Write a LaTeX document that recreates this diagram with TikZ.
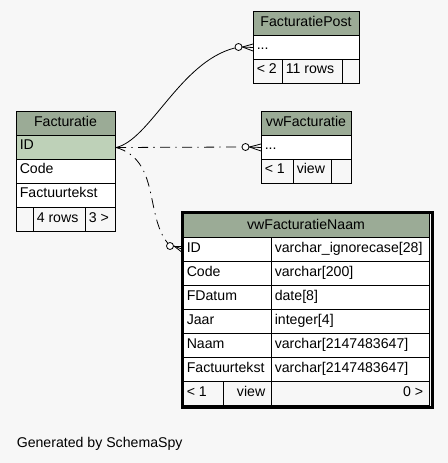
\documentclass[tikz,border=0pt]{standalone}
\usepackage{fontspec}
\setmainfont{Liberation Sans}

\definecolor{SpyHead}{HTML}{9BAB96}
\definecolor{SpyKey}{HTML}{BED1B8}
\definecolor{SpyBack}{HTML}{F7F7F7}
\newcommand{\px}{0.75pt}

\tikzset{
	cell/.style={draw, line width=0.75pt, inner sep=0pt, anchor=north west, fill=white},
	txt/.style={inner sep=0pt, anchor=base west, font=\fontsize{10.6}{12}\selectfont},
	odot/.style={circle, draw, fill=white, line width=0.6pt, minimum size=7*\px, inner sep=0pt},
	link/.style={line width=0.6pt},
	relDash/.style={line width=0.6pt, dash pattern=on 7.5pt off 4pt on 1pt off 4pt}
}

% one table cell: name, x, y, width, fill, text
\newcommand{\spycell}[6]{%
	\node[cell, fill=#5, minimum width=#4*\px, minimum height=24*\px] (#1) at ({#2},{#3}) {};
	\node[txt] (#1-t) at ({#2+3.5},{#3+15}) {#6};}
% same, text set to the right
\newcommand{\spycellR}[6]{%
	\node[cell, fill=#5, minimum width=#4*\px, minimum height=24*\px] (#1) at ({#2},{#3}) {};
	\node[txt, anchor=base east] (#1-t) at ({#2+#4-5.5},{#3+15}) {#6};}
% table header: name, x, y, width, text
\newcommand{\spyhead}[5]{%
	\node[cell, fill=SpyHead, minimum width=#4*\px, minimum height=24*\px] (#1) at ({#2},{#3}) {};
	\node[txt, anchor=base] (#1-t) at ({#2+#4/2},{#3+16}) {#5};}
% crow's foot with open dot
\newcommand{\crowodot}[2]{%
	\draw[link] (#2.east) -- ([yshift=3.5*\px]#1.west);
	\draw[link] (#2.east) -- (#1.west);
	\draw[link] (#2.east) -- ([yshift=-3.5*\px]#1.west);}

\begin{document}
\begin{tikzpicture}[x=0.75pt, y=-0.75pt]
	\fill[SpyBack] (0,0) rectangle (448,463);
	\useasboundingbox (0,0) rectangle (448,463);

	% Facturatie
	\spyhead{fac}{16}{111}{99}{Facturatie}
	\spycell{fac-id}{16}{135}{99}{SpyKey}{ID}
	\foreach \N/\T [count=\i] in {code/Code, tekst/Factuurtekst}
	{\spycell{fac-\N}{16}{135+24*\i}{99}{white}{\T}}
	\spycell{fac-f1}{16}{207}{17}{SpyBack}{}
	\spycell{fac-f2}{33}{207}{52}{SpyBack}{4 rows}
	\spycell{fac-f3}{85}{207}{30}{SpyBack}{3 >}

	% FacturatiePost
	\spyhead{fp}{253}{11}{106}{FacturatiePost}
	\spycell{fp-dots}{253}{35}{106}{white}{...}
	\spycell{fp-f1}{253}{59}{29}{SpyBack}{< 2}
	\spycell{fp-f2}{282}{59}{60}{SpyBack}{11 rows}
	\spycell{fp-f3}{342}{59}{17}{SpyBack}{}

	% vwFacturatie
	\spyhead{vf}{261}{111}{90}{vwFacturatie}
	\spycell{vf-dots}{261}{135}{90}{white}{...}
	\spycell{vf-f1}{261}{159}{32}{SpyBack}{< 1}
	\spycell{vf-f2}{293}{159}{38}{SpyBack}{view}
	\spycell{vf-f3}{331}{159}{20}{SpyBack}{}

	% vwFacturatieNaam
	\spyhead{vfn-h}{183}{213}{246}{vwFacturatieNaam}
	\foreach \N/\A/\B [count=\i from 0] in {id/ID/varchar\_ignorecase[28],
		code/Code/varchar[200], datum/FDatum/date[8], jaar/Jaar/integer[4],
		naam/Naam/varchar[2147483647], tekst/Factuurtekst/varchar[2147483647]}
	{\spycell{vfn-\N}{183}{237+24*\i}{88}{white}{\A}
	 \spycell{vfn-\N-type}{271}{237+24*\i}{158}{white}{\B}}
	\spycell{vfn-f1}{183}{381}{40}{SpyBack}{< 1}
	\spycellR{vfn-f2}{223}{381}{48}{SpyBack}{view}
	\spycellR{vfn-f3}{271}{381}{158}{SpyBack}{0 >}
	\node[draw, line width=3*\px, inner sep=0pt, anchor=north west,
		minimum width=250*\px, minimum height=195*\px] (vfn) at (181,211) {};

	% relations
	\node[odot] (fp-o) at (238.5,47) {};
	\node[odot] (vf-o) at (245.5,147) {};
	\node[odot] (vfn-o) at (170,246) {};
	\draw[link] (fac-id.east) .. controls (150,140) and (180,62) .. (fp-o);
	\draw[relDash] (fac-id.east) -- (vf-o);
	\draw[relDash] (fac-id.east) .. controls (160,160) and (145,215) .. (vfn-o);
	\crowodot{fp-dots}{fp-o}
	\crowodot{vf-dots}{vf-o}
	\crowodot{vfn-id}{vfn-o}

	\node[txt] (credit) at (16.5,447) {Generated by SchemaSpy};
\end{tikzpicture}
\end{document}
